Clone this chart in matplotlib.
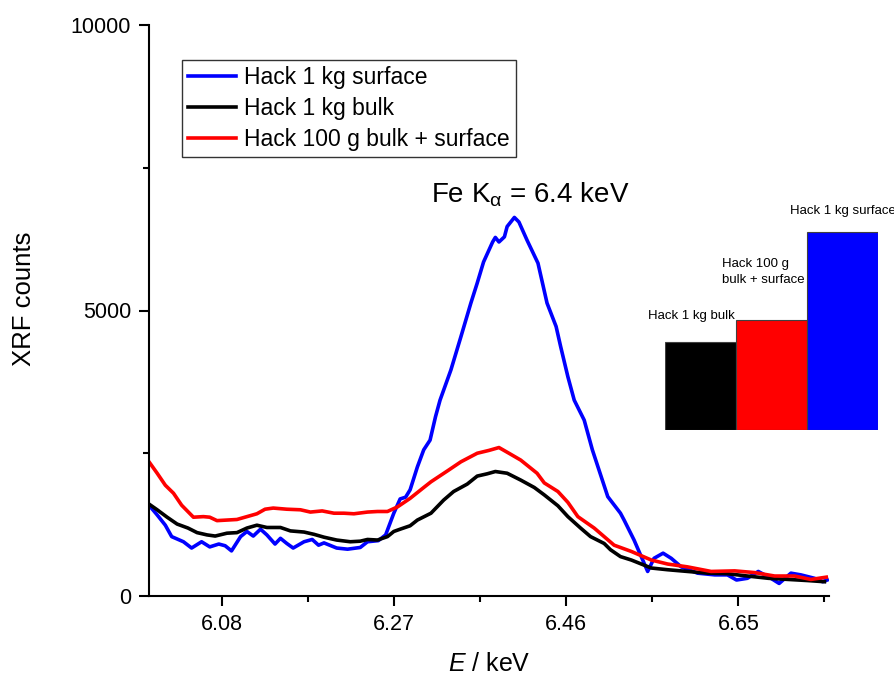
import numpy as np
import matplotlib
matplotlib.use('Agg')
import matplotlib.pyplot as plt
from matplotlib.ticker import FixedLocator, FormatStrFormatter

plt.rcParams['font.family'] = ['Liberation Sans', 'DejaVu Sans']
plt.rcParams['mathtext.fontset'] = 'custom'
plt.rcParams['mathtext.rm'] = 'Liberation Sans'
plt.rcParams['mathtext.it'] = 'Liberation Sans:italic'

# spectra: (energy keV, counts)
surface = [
    (6.000, 1590), (6.009, 1420), (6.018, 1240), (6.025, 1040), (6.038, 950),
    (6.047, 840), (6.058, 950), (6.067, 860), (6.077, 910), (6.084, 880),
    (6.091, 790), (6.101, 1040), (6.108, 1130), (6.115, 1050), (6.123, 1170),
    (6.130, 1070), (6.139, 910), (6.145, 1010), (6.152, 920), (6.159, 840),
    (6.171, 950), (6.180, 990), (6.187, 890), (6.193, 930), (6.207, 840),
    (6.219, 820), (6.233, 850), (6.241, 950), (6.253, 970), (6.261, 1070),
    (6.270, 1450), (6.277, 1700), (6.283, 1730), (6.288, 1860), (6.296, 2260),
    (6.303, 2560), (6.310, 2730), (6.316, 3140), (6.321, 3430), (6.333, 3960),
    (6.344, 4540), (6.355, 5130), (6.362, 5480), (6.369, 5850), (6.379, 6200),
    (6.382, 6280), (6.386, 6200), (6.392, 6290), (6.395, 6470), (6.403, 6630),
    (6.408, 6550), (6.417, 6230), (6.429, 5830), (6.434, 5480), (6.439, 5130),
    (6.449, 4720), (6.454, 4370), (6.462, 3840), (6.469, 3430), (6.480, 3080),
    (6.489, 2560), (6.506, 1740), (6.520, 1450), (6.524, 1330), (6.535, 980),
    (6.550, 430), (6.557, 660), (6.567, 750), (6.576, 660), (6.587, 510),
    (6.605, 400), (6.624, 370), (6.638, 370), (6.648, 280), (6.660, 310),
    (6.672, 430), (6.686, 310), (6.695, 220), (6.708, 400), (6.719, 370),
    (6.734, 310), (6.743, 250), (6.748, 280),
]
bulk = [
    (6.000, 1610), (6.009, 1510), (6.020, 1380), (6.031, 1260), (6.043, 1190),
    (6.053, 1110), (6.064, 1070), (6.073, 1050), (6.086, 1100), (6.097, 1110),
    (6.108, 1190), (6.119, 1240), (6.130, 1200), (6.145, 1200), (6.156, 1140),
    (6.171, 1120), (6.182, 1080), (6.193, 1030), (6.207, 980), (6.222, 950),
    (6.233, 960), (6.241, 990), (6.252, 980), (6.263, 1040), (6.270, 1130),
    (6.277, 1170), (6.288, 1230), (6.296, 1330), (6.311, 1450), (6.325, 1680),
    (6.336, 1830), (6.351, 1960), (6.362, 2100), (6.373, 2140), (6.382, 2180),
    (6.395, 2150), (6.410, 2030), (6.425, 1900), (6.436, 1770), (6.451, 1580),
    (6.462, 1390), (6.476, 1190), (6.487, 1040), (6.502, 920), (6.509, 810),
    (6.520, 690), (6.532, 630), (6.554, 490), (6.572, 460), (6.594, 430),
    (6.616, 400), (6.638, 390), (6.660, 350), (6.683, 310), (6.705, 290),
    (6.727, 270), (6.745, 250),
]
mixed = [
    (6.000, 2350), (6.009, 2150), (6.018, 1940), (6.027, 1800), (6.036, 1590),
    (6.049, 1380), (6.060, 1390), (6.067, 1380), (6.075, 1320), (6.086, 1330),
    (6.097, 1340), (6.108, 1390), (6.119, 1440), (6.128, 1520), (6.137, 1540),
    (6.152, 1520), (6.167, 1510), (6.178, 1470), (6.191, 1490), (6.204, 1450),
    (6.215, 1450), (6.226, 1440), (6.241, 1470), (6.252, 1480), (6.263, 1480),
    (6.274, 1560), (6.288, 1710), (6.303, 1900), (6.311, 2000), (6.330, 2200),
    (6.344, 2350), (6.362, 2500), (6.375, 2550), (6.386, 2600), (6.397, 2500),
    (6.410, 2380), (6.428, 2150), (6.436, 1980), (6.451, 1830), (6.462, 1640),
    (6.473, 1390), (6.491, 1190), (6.513, 890), (6.532, 780), (6.554, 630),
    (6.572, 560), (6.594, 510), (6.620, 430), (6.646, 440), (6.668, 410),
    (6.690, 350), (6.712, 350), (6.730, 290), (6.747, 330),
]

labels = ['Hack 1 kg surface', 'Hack 1 kg bulk', 'Hack 100 g bulk + surface']
colors = ['#0000ff', '#000000', '#ff0000']

# inset bars (relative peak size)
inset_labels = ['Hack 1 kg bulk', 'Hack 100 g\nbulk + surface', 'Hack 1 kg surface']
inset_values = [88, 110, 198]
inset_colors = ['#000000', '#ff0000', '#0000ff']

xticks_major = [6.08, 6.27, 6.46, 6.65]
xticks_minor = [6.175, 6.365, 6.555, 6.745]

fig = plt.figure(figsize=(8.94, 6.80), dpi=100)
ax = fig.add_axes([149/894, 1 - 596/680, 680/894, 571/680])

for data, lab, col in zip([surface, bulk, mixed], labels, colors):
    e, c = np.array(data).T
    ax.plot(e, c, color=col, lw=2.6, label=lab, solid_joinstyle='round')

ax.set_xlim(6.0, 6.75)
ax.set_ylim(0, 10000)
ax.xaxis.set_major_locator(FixedLocator(xticks_major))
ax.xaxis.set_minor_locator(FixedLocator(xticks_minor))
ax.yaxis.set_major_locator(FixedLocator([0, 5000, 10000]))
ax.yaxis.set_minor_locator(FixedLocator([2500, 7500]))
ax.xaxis.set_major_formatter(FormatStrFormatter('%.2f'))
ax.yaxis.set_major_formatter(FormatStrFormatter('%d'))

for s in ['top', 'right']:
    ax.spines[s].set_visible(False)
for s in ['left', 'bottom']:
    ax.spines[s].set_linewidth(1.5)
ax.tick_params(which='major', direction='out', length=7, width=1.5, labelsize=15.5, pad=6)
ax.tick_params(which='minor', direction='out', length=4, width=1.5)

ax.set_xlabel('$E$ / keV', fontsize=18, labelpad=12)
ax.set_ylabel('XRF counts', fontsize=18.5)
ax.yaxis.set_label_coords(-0.166, 0.52)

ax.text(6.42, 6900, r'Fe K$_{\mathrm{α}}$ = 6.4 keV', fontsize=20, ha='center', va='baseline')

leg = ax.legend(loc='upper left', bbox_to_anchor=(0.0485, 0.939), borderaxespad=0,
                fontsize=16.5, frameon=True, fancybox=False, handlelength=2.1,
                handletextpad=0.35, labelspacing=0.35, borderpad=0.27)
leg.get_frame().set_edgecolor('black')
leg.get_frame().set_linewidth(1.0)

# inset bar chart
ax_in = fig.add_axes([665/894, 1 - 430/680, 213/894, 230/680])
xpos = np.arange(len(inset_values))
ax_in.bar(xpos, inset_values, width=1.0, color=inset_colors, edgecolor='#404040', lw=0.8)
ax_in.set_xlim(-0.5, 2.5)
ax_in.set_ylim(0, 230)
ax_in.axis('off')
ax_in.text(xpos[0] - 0.13, inset_values[0] + 20, inset_labels[0], fontsize=9.5, ha='center', va='bottom')
ax_in.text(xpos[1] - 0.115, inset_values[1] + 34, inset_labels[1], fontsize=9.5, ha='center',
           va='bottom', multialignment='left', linespacing=1.45)
ax_in.text(xpos[2], inset_values[2] + 15, inset_labels[2], fontsize=9.5, ha='center', va='bottom')

fig.savefig('out.png', dpi=100)
